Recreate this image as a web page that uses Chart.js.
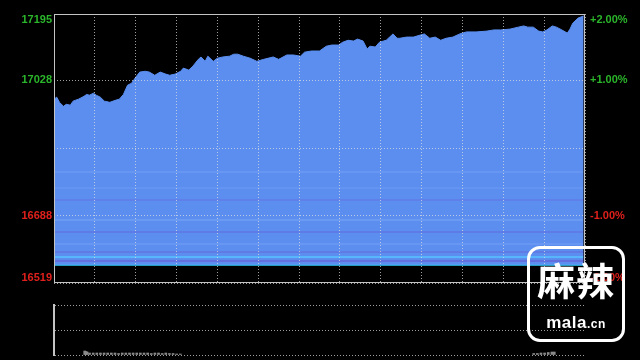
<!DOCTYPE html>
<html>
<head>
<meta charset="utf-8">
<script src="https://cdn.jsdelivr.net/npm/chart.js@4/dist/chart.umd.min.js"></script>
<style>
  html, body { margin: 0; padding: 0; background: #000; }
  #wrap { position: relative; width: 640px; height: 360px; overflow: hidden; }
  #priceBox { position: absolute; left: 0; top: 0; width: 640px; height: 290px; }
  #volBox { position: absolute; left: 0; top: 290px; width: 640px; height: 70px; }
  #mark {
    position: absolute; left: 527px; top: 246px; width: 92px; height: 90px;
    border: 3px solid #fff; border-radius: 13px;
    color: #fff; text-align: center; font-family: "Noto Sans CJK SC", sans-serif;
  }
  #mark .big { font-size: 38px; font-weight: 700; line-height: 40px; margin-top: 10px; letter-spacing: 1px; }
  #mark .small { font-family: "Liberation Sans", Arial, sans-serif; font-weight: 700; font-size: 17px; margin-top: 14px; letter-spacing: 0.5px; }
  #mark .small span { font-size: 12px; }
</style>
</head>
<body>
<div id="wrap">
  <div id="priceBox"><canvas id="priceChart"></canvas></div>
  <div id="volBox"><canvas id="volChart"></canvas></div>
  <div id="mark"><div class="big">麻辣</div><div class="small">mala<span>.cn</span></div></div>
</div>
<script>
// minutes since the open (9:30 = 0, 16:00 = 390)
const TIMES = [0,2,4,7,9,12,14,18,22,24,26,29,31,34,37,41,45,48,51,54,57,60,63,67,70,74,78,82,85,89,93,95,99,102,106,108,111,113,117,120,124,129,132,135,139,144,149,154,161,165,171,176,181,184,189,195,200,204,209,212,216,220,223,227,230,232,236,239,244,249,252,254,259,264,269,272,276,280,284,288,293,298,303,310,318,323,328,335,341,345,348,352,356,359,362,366,369,373,377,379,381,385,389];
const VALUES = [16981,16986,16973,16963,16968,16966,16976,16981,16988,16993,16991,16996,16991,16986,16976,16973,16978,16981,16993,17016,17021,17036,17049,17051,17049,17041,17049,17044,17041,17044,17051,17059,17054,17064,17081,17087,17076,17089,17076,17084,17087,17089,17094,17094,17089,17084,17076,17081,17087,17081,17092,17092,17089,17099,17102,17102,17114,17117,17117,17124,17129,17127,17132,17127,17107,17114,17112,17124,17129,17145,17134,17134,17137,17137,17142,17145,17134,17137,17129,17134,17137,17145,17150,17150,17152,17155,17155,17157,17162,17165,17162,17162,17152,17150,17155,17165,17162,17155,17147,17157,17172,17185,17190];

const Y_TICKS = [17195, 17028, 16857, 16688, 16519];
const LEFT_LABELS = ["17195", "17028", "", "16688", "16519"];
const RIGHT_LABELS = ["+2.00%", "+1.00%", "", "-1.00%", "-2.00%"];
const FILL_BASE = 16565;

const VOL_TIMES = [1,2,3,5,8,11,14,17,20,23,26,29,32,35,38,41,44,47,50,53,56,59,62,65,68,71,74,77,80,372,375,378,381,384,387,389];
const VOL_VALUES = [8,7,6,4,4,4,4,4,4,4,4,3,4,4,4,4,4,4,4,4,3,4,4,3,4,3,3,2,2,3,3,4,4,5,6,6];

const GREEN = "#2bb52b";
const RED = "#e0201c";
const BLUE = "#5b8eef";
const GRID = "rgba(225,225,225,0.7)";
const FRAME = "#c4c4c4";

function stripes(chart) {
  const area = chart.chartArea;
  if (!area) return BLUE;
  const y = chart.scales.y;
  const g = chart.ctx.createLinearGradient(0, area.top, 0, area.bottom);
  const f = v => Math.min(1, Math.max(0, (y.getPixelForValue(v) - area.top) / (area.bottom - area.top)));
  const bands = [
    [16800, 16796, "#6797f2"], [16760, 16756, "#6494f1"], [16730, 16726, "#5f80e8"],
    [16680, 16676, "#6a9af2"], [16650, 16645, "#5f7ce6"], [16620, 16615, "#6797f2"],
    [16600, 16594, "#607be4"], [16588, 16583, "#59b5fb"], [16578, 16572, "#6270de"]
  ];
  g.addColorStop(0, BLUE);
  bands.forEach(b => {
    g.addColorStop(f(b[0]) - 0.0001, BLUE);
    g.addColorStop(f(b[0]), b[2]);
    g.addColorStop(f(b[1]), b[2]);
    g.addColorStop(f(b[1]) + 0.0001, BLUE);
  });
  g.addColorStop(1, BLUE);
  return g;
}

const priceLabels = {
  id: "priceLabels",
  afterDraw(chart) {
    const { ctx, chartArea: a, scales: { y } } = chart;
    ctx.save();
    ctx.strokeStyle = FRAME;
    ctx.lineWidth = 1;
    ctx.strokeRect(a.left + 0.5, a.top + 0.5, a.right - a.left - 1, a.bottom - a.top - 1);
    ctx.font = "bold 11px Arial, 'Liberation Sans', sans-serif";
    ctx.textBaseline = "middle";
    Y_TICKS.forEach((v, i) => {
      const py = Math.min(a.bottom - 5, Math.max(a.top + 6, y.getPixelForValue(v)));
      ctx.fillStyle = i < 2 ? GREEN : RED;
      ctx.textAlign = "right";
      ctx.fillText(LEFT_LABELS[i], a.left - 2, py);
      ctx.textAlign = "left";
      ctx.fillText(RIGHT_LABELS[i], a.right + 5, py);
    });
    ctx.restore();
  }
};

new Chart(document.getElementById("priceChart"), {
  type: "line",
  data: {
    datasets: [
      {
        data: TIMES.map((t, i) => ({ x: t, y: VALUES[i] })),
        borderColor: BLUE,
        borderWidth: 1,
        backgroundColor: ctx => stripes(ctx.chart),
        fill: { value: FILL_BASE },
        pointRadius: 0,
        tension: 0
      },
      {
        data: [{ x: 0, y: FILL_BASE }, { x: 390, y: FILL_BASE }],
        borderColor: "#33cfff",
        borderWidth: 2,
        pointRadius: 0,
        fill: false
      }
    ]
  },
  options: {
    responsive: true,
    maintainAspectRatio: false,
    animation: false,
    layout: { padding: { left: 54, right: 55, top: 14, bottom: 7 } },
    plugins: { legend: { display: false }, tooltip: { enabled: false } },
    scales: {
      x: {
        type: "linear", min: 0, max: 390,
        ticks: { display: false, stepSize: 30 },
        grid: { color: GRID, drawTicks: false, z: 1 },
        border: { display: false, dash: [1, 2] }
      },
      y: {
        min: 16519, max: 17195,
        afterBuildTicks: s => { s.ticks = Y_TICKS.map(v => ({ value: v })); },
        ticks: { display: false },
        grid: { color: GRID, drawTicks: false, z: 1 },
        border: { display: false, dash: [1, 2] }
      }
    }
  },
  plugins: [priceLabels]
});

new Chart(document.getElementById("volChart"), {
  type: "bar",
  data: {
    datasets: [{
      data: VOL_TIMES.map((t, i) => ({ x: t, y: VOL_VALUES[i] })),
      backgroundColor: "#8a8a8a",
      barThickness: 2
    }]
  },
  options: {
    responsive: true,
    maintainAspectRatio: false,
    animation: false,
    layout: { padding: { left: 54, right: 55, top: 15, bottom: 5 } },
    plugins: { legend: { display: false }, tooltip: { enabled: false } },
    scales: {
      x: { type: "linear", min: 0, max: 390, display: false },
      y: {
        min: 0, max: 100,
        ticks: { display: false, stepSize: 50 },
        grid: { color: GRID, drawTicks: false },
        border: { display: true, color: FRAME, width: 2, dash: [1, 2] }
      }
    }
  }
});
</script>
</body>
</html>
